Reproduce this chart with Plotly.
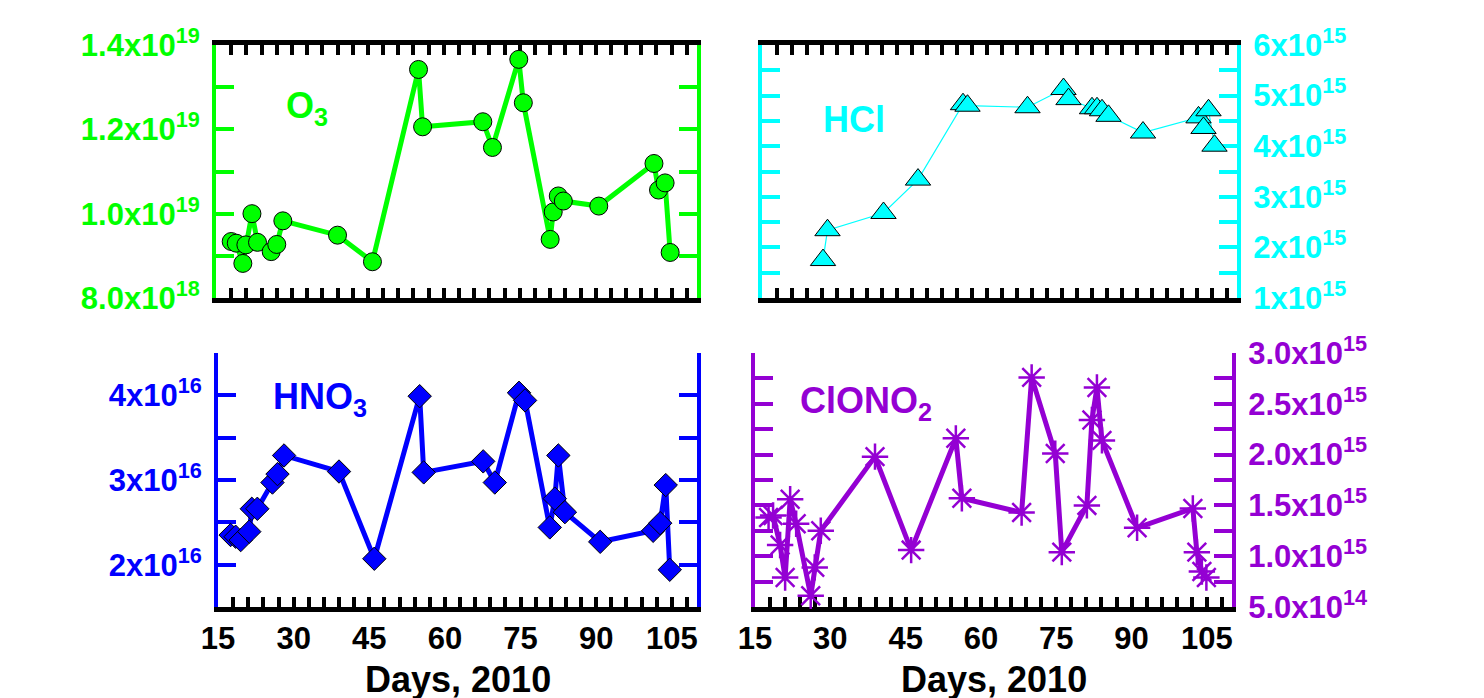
import plotly.graph_objects as go

# ---------------- data ----------------
o3_days = [18.0, 19.0, 20.3, 20.9, 22.1, 23.2, 25.9, 27.0, 28.2, 39.0, 45.9, 55.0, 55.8,
           67.7, 69.6, 74.8, 75.7, 81.0, 81.6, 82.6, 83.6, 90.6, 101.5, 102.4, 103.7, 104.7]
o3_vals = [9.34e18, 9.30e18, 8.82e18, 9.26e18, 1.00e19, 9.32e18, 9.10e18, 9.27e18, 9.83e18,
           9.49e18, 8.86e18, 1.342e19, 1.206e19, 1.218e19, 1.157e19, 1.366e19, 1.263e19,
           9.39e18, 1.004e19, 1.042e19, 1.030e19, 1.018e19, 1.119e19, 1.056e19, 1.073e19, 9.08e18]

hcl_days = [27.2, 28.1, 39.3, 46.2, 55.2, 56.1, 68.1, 75.3, 76.3, 81.0, 82.0, 83.0, 84.3,
            91.2, 102.3, 103.3, 104.3, 105.5]
hcl_vals = [1.75e15, 2.34e15, 2.68e15, 3.34e15, 4.83e15, 4.80e15, 4.77e15, 5.13e15, 4.93e15,
            4.75e15, 4.75e15, 4.71e15, 4.60e15, 4.27e15, 4.57e15, 4.36e15, 4.71e15, 4.01e15]

hno3_days = [17.5, 18.5, 19.5, 21.2, 21.7, 22.8, 25.8, 26.8, 28.1, 39.0, 46.0, 55.0, 55.8,
             67.6, 69.9, 74.7, 75.9, 80.8, 81.8, 82.5, 83.8, 90.8, 101.3, 102.7, 103.8, 104.6]
hno3_vals = [2.35e16, 2.33e16, 2.29e16, 2.39e16, 2.66e16, 2.66e16, 2.97e16, 3.07e16, 3.29e16,
             3.10e16, 2.07e16, 3.99e16, 3.09e16, 3.22e16, 2.97e16, 4.03e16, 3.94e16,
             2.44e16, 2.78e16, 3.29e16, 2.62e16, 2.27e16, 2.40e16, 2.49e16, 2.94e16, 1.94e16]

clono2_days = [17.7, 18.6, 20.0, 21.0, 22.0, 23.2, 26.1, 26.9, 28.1, 38.9, 46.1, 55.0, 56.2,
               68.1, 70.1, 74.8, 76.1, 81.1, 82.1, 83.1, 84.1, 91.1, 102.2, 103.0, 104.0, 104.9]
clono2_vals = [1.38e15, 1.40e15, 1.11e15, 0.79e15, 1.56e15, 1.32e15, 0.61e15, 0.89e15, 1.25e15,
               1.98e15, 1.06e15, 2.16e15, 1.57e15, 1.43e15, 2.76e15, 2.01e15, 1.04e15,
               1.50e15, 2.34e15, 2.66e15, 2.14e15, 1.28e15, 1.47e15, 1.04e15, 0.85e15, 0.79e15]

# ---------------- ticks ----------------
x_range = [15, 110]
x_tick_vals = [15, 18, 21, 24, 27, 30, 33, 36, 39, 42, 45, 48, 51, 54, 57, 60, 63, 66, 69, 72,
               75, 78, 81, 84, 87, 90, 93, 96, 99, 102, 105, 108]
x_label_days = [15, 30, 45, 60, 75, 90, 105]
x_tick_text = [str(v) if v in x_label_days else "" for v in x_tick_vals]
x_title = "Days, 2010"

o3_ticks = [8e18, 9e18, 1.0e19, 1.1e19, 1.2e19, 1.3e19, 1.4e19]
o3_text = ["8.0x10<sup>18</sup>", "", "1.0x10<sup>19</sup>", "", "1.2x10<sup>19</sup>", "",
           "1.4x10<sup>19</sup>"]
hcl_ticks = [1e15, 1.5e15, 2e15, 2.5e15, 3e15, 3.5e15, 4e15, 4.5e15, 5e15, 5.5e15, 6e15]
hcl_text = ["1x10<sup>15</sup>", "", "2x10<sup>15</sup>", "", "3x10<sup>15</sup>", "",
            "4x10<sup>15</sup>", "", "5x10<sup>15</sup>", "", "6x10<sup>15</sup>"]
hno3_ticks = [1.5e16, 2e16, 2.5e16, 3e16, 3.5e16, 4e16, 4.5e16]
hno3_text = ["", "2x10<sup>16</sup>", "", "3x10<sup>16</sup>", "", "4x10<sup>16</sup>", ""]
clono2_ticks = [5e14, 7.5e14, 1e15, 1.25e15, 1.5e15, 1.75e15, 2e15, 2.25e15, 2.5e15, 2.75e15, 3e15]
clono2_text = ["5.0x10<sup>14</sup>", "", "1.0x10<sup>15</sup>", "", "1.5x10<sup>15</sup>", "",
               "2.0x10<sup>15</sup>", "", "2.5x10<sup>15</sup>", "", "3.0x10<sup>15</sup>"]

GREEN = "#00FF00"
CYAN = "#00FFFF"
BLUE = "#0000FF"
PURPLE = "#9400D3"
FONT = "Liberation Sans"

# page body has an 8px margin; the figure is sized to fit the 1484x698 window
OFF = 8
W, H = 1484 - OFF, 698 - OFF


def px_x(a, b):
    return [(a - OFF) / W, (b - OFF) / W]


def px_y(top, bottom):
    return [1 - (bottom - OFF) / H, 1 - (top - OFF) / H]


fig = go.Figure()

fig.add_trace(go.Scatter(
    x=o3_days, y=o3_vals, mode="lines+markers", xaxis="x", yaxis="y", cliponaxis=False,
    line=dict(color=GREEN, width=5),
    marker=dict(symbol="circle", size=18, color=GREEN, line=dict(color="black", width=1))))
fig.add_trace(go.Scatter(
    x=hcl_days, y=hcl_vals, mode="lines+markers", xaxis="x2", yaxis="y2", cliponaxis=False,
    line=dict(color=CYAN, width=1.2),
    marker=dict(symbol="triangle-up", size=22, color=CYAN, line=dict(color="black", width=1))))
fig.add_trace(go.Scatter(
    x=hno3_days, y=hno3_vals, mode="lines+markers", xaxis="x3", yaxis="y3", cliponaxis=False,
    line=dict(color=BLUE, width=5),
    marker=dict(symbol="diamond", size=18, color=BLUE, line=dict(color="black", width=1))))
fig.add_trace(go.Scatter(
    x=clono2_days, y=clono2_vals, mode="lines+markers", xaxis="x4", yaxis="y4", cliponaxis=False,
    line=dict(color=PURPLE, width=5),
    marker=dict(symbol="asterisk-open", size=22, color=PURPLE, line=dict(color=PURPLE, width=2.5))))


def xaxis(domain, anchor, top):
    return dict(domain=domain, anchor=anchor, range=x_range, showline=True, linecolor="black",
                linewidth=5, mirror="ticks" if top else False, ticks="inside", ticklen=10,
                tickwidth=4, tickcolor="black", tickmode="array", tickvals=x_tick_vals,
                ticktext=x_tick_text, showgrid=False, zeroline=False, layer="below traces",
                showticklabels=not top, automargin=False,
                tickfont=dict(family=FONT, size=31, color="black", weight="bold"))


def yaxis(domain, anchor, rng, vals, text, color, side):
    return dict(domain=domain, anchor=anchor, range=rng, side=side, showline=True,
                linecolor=color, linewidth=4, mirror="ticks", ticks="inside", ticklen=18,
                tickwidth=4, tickcolor=color, tickmode="array", tickvals=vals, ticktext=text,
                showgrid=False, zeroline=False, layer="below traces", automargin=False,
                ticklabelstandoff=6,
                tickfont=dict(family=FONT, size=31, color=color, weight="bold"))


fig.update_layout(
    width=W, height=H, margin=dict(l=0, r=0, t=0, b=0), autosize=False,
    paper_bgcolor="white", plot_bgcolor="white", showlegend=False,
    xaxis=xaxis(px_x(216, 697), "y", True),
    yaxis=yaxis(px_y(45, 298), "x", [8e18, 1.4e19], o3_ticks, o3_text, GREEN, "left"),
    xaxis2=xaxis(px_x(762, 1237), "y2", True),
    yaxis2=yaxis(px_y(45, 298), "x2", [1e15, 6e15], hcl_ticks, hcl_text, CYAN, "right"),
    xaxis3=xaxis(px_x(218, 697), "y3", False),
    yaxis3=yaxis(px_y(353, 607), "x3", [1.5e16, 4.5e16], hno3_ticks, hno3_text, BLUE, "left"),
    xaxis4=xaxis(px_x(755, 1232), "y4", False),
    yaxis4=yaxis(px_y(353, 607), "x4", [5e14, 3e15], clono2_ticks, clono2_text, PURPLE, "right"),
)

labels = [("O<sub>3</sub>", 307, 108, GREEN), ("HCl", 854, 120, CYAN),
          ("HNO<sub>3</sub>", 320, 399, BLUE), ("ClONO<sub>2</sub>", 866, 403, PURPLE)]
for txt, cx, cy, col in labels:
    fig.add_annotation(text=txt, x=(cx - OFF) / W, y=1 - (cy - OFF) / H, xref="paper",
                       yref="paper", showarrow=False, xanchor="center", yanchor="middle",
                       font=dict(family=FONT, size=36, color=col, weight="bold"))

# x-axis titles under the two bottom panels
for xr in ["x3 domain", "x4 domain"]:
    fig.add_annotation(text=x_title, x=0.5, xref=xr, y=1 - (679 - OFF) / H, yref="paper",
                       showarrow=False, xanchor="center", yanchor="middle",
                       font=dict(family=FONT, size=36, color="black", weight="bold"))

fig.write_html("out.html")
